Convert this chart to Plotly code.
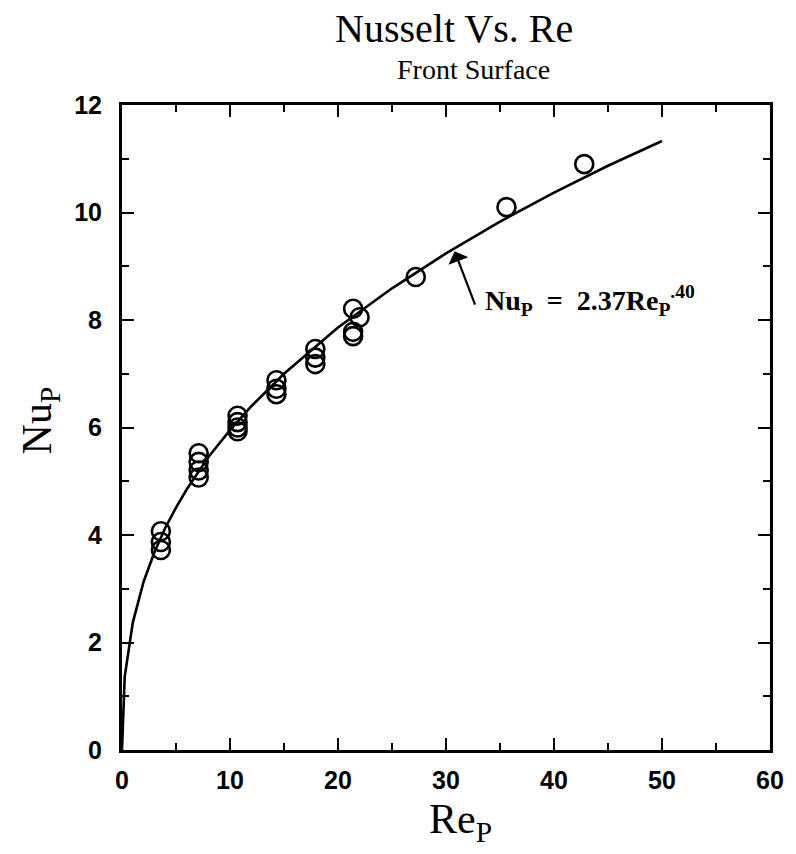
import plotly.graph_objects as go

# Measured data points (Re_P, Nu_P)
re_data = [3.6, 3.6, 3.6,
           7.1, 7.1, 7.1, 7.1,
           10.7, 10.7, 10.7, 10.7,
           14.3, 14.3, 14.3,
           17.9, 17.9, 17.9,
           21.4, 21.4, 21.4, 22.0,
           27.2, 35.6, 42.8]
nu_data = [4.07, 3.87, 3.72,
           5.52, 5.36, 5.20, 5.07,
           6.22, 6.10, 6.00, 5.93,
           6.88, 6.72, 6.62,
           7.46, 7.30, 7.18,
           8.21, 7.78, 7.70, 8.05,
           8.80, 10.10, 10.90]

# Correlation curve Nu_P = 2.37 Re_P^.40
re_fit = [0, 0.25, 1, 2, 3, 4, 5, 6, 8, 10, 12, 15, 20, 25, 30, 35, 40, 45, 50]
nu_fit = [0, 1.36, 2.37, 3.13, 3.68, 4.13, 4.51, 4.85, 5.45, 5.95, 6.40, 7.00,
          7.86, 8.59, 9.24, 9.83, 10.37, 10.87, 11.33]

x_ticks = [0, 10, 20, 30, 40, 50, 60]
y_ticks = [0, 2, 4, 6, 8, 10, 12]

serif = "Liberation Serif, Times New Roman, serif"
sans = "Liberation Sans Narrow, Liberation Sans, Arial, sans-serif"

fig = go.Figure()
fig.add_trace(go.Scatter(x=re_fit, y=nu_fit, mode="lines",
                         line=dict(color="black", width=2.6), showlegend=False))
fig.add_trace(go.Scatter(x=re_data, y=nu_data, mode="markers",
                         marker=dict(symbol="circle-open", size=18, color="black",
                                     line=dict(width=2.6, color="black")),
                         showlegend=False))

axis_common = dict(
    showgrid=False, zeroline=False, showline=True, linecolor="black", linewidth=3,
    mirror="ticks", ticks="inside", ticklen=12, tickwidth=2, tickcolor="black",
    tickfont=dict(family=sans, size=25, color="black"),
)
fig.update_xaxes(range=[0, 60], tickvals=x_ticks, ticktext=[f"<b>{v}</b>" for v in x_ticks],
                 minor=dict(dtick=5, ticks="inside", ticklen=7, tickwidth=2, tickcolor="black"),
                 ticklabelstandoff=6, **axis_common)
fig.update_yaxes(range=[0, 12], tickvals=y_ticks, ticktext=[f"<b>{v}</b>" for v in y_ticks],
                 minor=dict(dtick=1, ticks="inside", ticklen=7, tickwidth=2, tickcolor="black"),
                 ticklabelstandoff=12, **axis_common)

annotations = [
    dict(text="Nusselt Vs. Re", x=456, y=28, font=dict(family=serif, size=40)),
    dict(text="Front Surface", x=475, y=70, font=dict(family=serif, size=28)),
    dict(text="Re<sub>P</sub>", x=462, y=822, font=dict(family=serif, size=42)),
    dict(text="Nu<sub>P</sub>", x=40, y=420, textangle=-90, font=dict(family=serif, size=42)),
]
for a in annotations:
    fig.add_annotation(xref="paper", yref="paper", showarrow=False,
                       x=(a["x"] - 122) / 651, y=(750 - a["y"]) / 645,
                       xanchor="center", yanchor="middle", text=a["text"],
                       font=dict(color="black", **a["font"]), textangle=a.get("textangle", 0))

# arrow to the curve
fig.add_annotation(x=30.8, y=9.28, xref="x", yref="y", text="", showarrow=True,
                   ax=21, ay=55, arrowhead=1, arrowsize=1.6, arrowwidth=2.2, arrowcolor="black")
fig.add_annotation(x=33.45, y=8.37, xref="x", yref="y", showarrow=False,
                   xanchor="left", yanchor="middle",
                   text="<b>Nu<sub>P</sub>&nbsp;&nbsp;=&nbsp;&nbsp;2.37Re<sub>P</sub><sup>.40</sup></b>",
                   font=dict(family=serif, size=28, color="black"))

fig.update_layout(width=796, height=854, margin=dict(l=122, r=23, t=105, b=104),
                  plot_bgcolor="white", paper_bgcolor="white")

fig.write_html("out.html")
